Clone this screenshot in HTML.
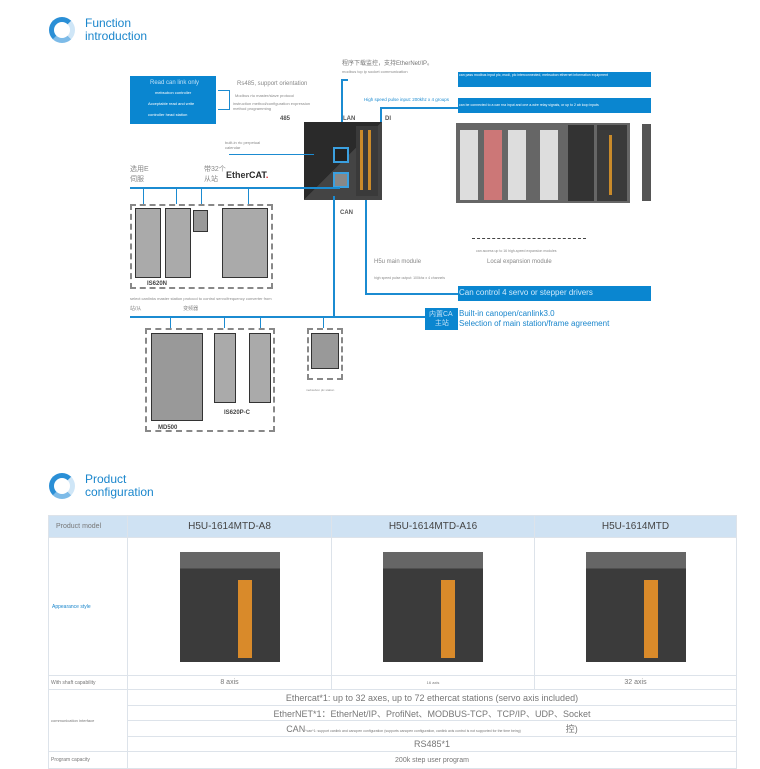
<!DOCTYPE html><html><head><meta charset="utf-8"><style>
*{margin:0;padding:0;box-sizing:border-box}
body{width:760px;height:768px;background:#fff;position:relative;overflow:hidden;font-family:"Liberation Sans","Noto Sans CJK SC",sans-serif}
.a{position:absolute}
.t{position:absolute;white-space:nowrap}
.ring{position:absolute;width:26px;height:26px;border-radius:50%;border:5px solid #2a8fd6;border-right-color:#cfe6f7;border-bottom-color:#7dbbe8}
.h{color:#1a86cc;font-size:12px;line-height:13px}
.bl{position:absolute;background:#1b8bd1}
.dash{position:absolute;border:2px dashed #888}
.dev{position:absolute;background:#555;border:1px solid #333}
.bar{position:absolute;background:#0a86d0;color:#fff;font-size:4px}
td{border:1px solid #dde3ea;text-align:center;color:#777;font-size:9px}
</style></head><body>
<div class="ring" style="left:49px;top:17px"></div>
<div class="t h" style="left:85px;top:17px">Function<br>introduction</div>

<div class="a" style="left:130px;top:76px;width:86px;height:48px;background:#0a86d0"></div>
<div class="t" style="left:150px;top:80px;font-size:6px;color:#bfe0f7">Read can link only</div>
<div class="t" style="left:155px;top:90px;font-size:4px;color:#fff">mebsubon controller</div>
<div class="t" style="left:148px;top:101px;font-size:4px;color:#fff">Acceptable read and write</div>
<div class="t" style="left:148px;top:112px;font-size:4px;color:#fff">controller head station</div>
<div class="a" style="left:218px;top:90px;width:12px;height:20px;border:1px solid #1b8bd1;border-left:none"></div>
<div class="t" style="left:237px;top:81px;font-size:6px;color:#888">Rs485, support orientation</div>
<div class="t" style="left:235px;top:93px;font-size:4px;color:#888">Modbus rtu master/slave protocol</div>
<div class="t" style="left:233px;top:101px;font-size:4px;color:#888">instruction method/configuration expression<br>method programming</div>
<div class="t" style="left:280px;top:116px;font-size:6px;font-weight:bold;color:#555">485</div>
<div class="t" style="left:343px;top:116px;font-size:6px;font-weight:bold;color:#555">LAN</div>
<div class="t" style="left:385px;top:116px;font-size:6px;font-weight:bold;color:#555">DI</div>
<div class="t" style="left:342px;top:58px;font-size:6px;color:#777">程序下载监控，支持EtherNet/IP。</div>
<div class="t" style="left:342px;top:69px;font-size:4px;color:#888">modbus tcp ip socket communication</div>
<div class="bl" style="left:341px;top:79px;width:2px;height:45px"></div>
<div class="bl" style="left:341px;top:79px;width:7px;height:2px"></div>
<div class="t" style="left:364px;top:97px;font-size:4.5px;color:#1b8bd1">High speed pulse input: 200khz x 4 groups</div>
<div class="bl" style="left:380px;top:107px;width:78px;height:2px"></div>
<div class="bl" style="left:380px;top:107px;width:2px;height:16px"></div>

<!-- main PLC -->
<div class="a" style="left:304px;top:122px;width:78px;height:78px;background:linear-gradient(135deg,#2a2a2a 50%,#444 50%)"></div>
<div class="a" style="left:356px;top:126px;width:22px;height:70px;background:#3a3a3a"></div>
<div class="a" style="left:360px;top:130px;width:3px;height:60px;background:#c98a2a"></div>
<div class="a" style="left:368px;top:130px;width:3px;height:60px;background:#c98a2a"></div>
<div class="a" style="left:333px;top:147px;width:16px;height:16px;background:#222;border:2px solid #3ba0e0"></div>
<div class="a" style="left:333px;top:172px;width:16px;height:16px;background:#888;border:2px solid #3ba0e0"></div>
<div class="t" style="left:340px;top:210px;font-size:6px;font-weight:bold;color:#555">CAN</div>

<div class="t" style="left:225px;top:140px;font-size:4px;color:#888">built-in rtc perpetual<br>calendar</div>
<div class="bl" style="left:229px;top:154px;width:85px;height:1px"></div>
<div class="t" style="left:130px;top:164px;font-size:7px;color:#888">选用E<br>伺服</div>
<div class="t" style="left:204px;top:164px;font-size:7px;color:#888">带32个<br>从站</div>
<div class="t" style="left:226px;top:170px;font-size:9px;font-weight:bold;color:#333">Ether<span style="color:#222">CAT</span><span style="color:#d22">.</span></div>
<div class="bl" style="left:130px;top:187px;width:210px;height:2px"></div>
<div class="bl" style="left:143px;top:189px;width:1px;height:15px"></div>
<div class="bl" style="left:176px;top:189px;width:1px;height:15px"></div>
<div class="bl" style="left:201px;top:189px;width:1px;height:15px"></div>
<div class="bl" style="left:248px;top:189px;width:1px;height:15px"></div>

<div class="dash" style="left:130px;top:204px;width:143px;height:85px"></div>
<div class="dev" style="left:135px;top:208px;width:26px;height:70px;background:#aaa"></div>
<div class="dev" style="left:165px;top:208px;width:26px;height:70px;background:#aaa"></div>
<div class="dev" style="left:193px;top:210px;width:15px;height:22px;background:#999"></div>
<div class="dev" style="left:222px;top:208px;width:46px;height:70px;background:#aaa"></div>
<div class="t" style="left:147px;top:281px;font-size:6px;font-weight:bold;color:#444">IS620N</div>
<div class="t" style="left:130px;top:296px;font-size:4px;color:#888">select canlinks master station protocol to control servo/frequency converter from</div>
<div class="t" style="left:130px;top:305px;font-size:5px;color:#888">站/从 &nbsp;&nbsp;&nbsp;&nbsp;&nbsp;&nbsp;&nbsp;&nbsp;&nbsp;&nbsp;&nbsp;&nbsp;&nbsp;&nbsp;&nbsp;&nbsp;&nbsp;&nbsp;&nbsp;&nbsp;&nbsp;&nbsp;&nbsp;&nbsp;&nbsp;&nbsp;&nbsp;&nbsp; 变频器</div>

<div class="bl" style="left:333px;top:196px;width:2px;height:122px"></div>
<div class="bl" style="left:130px;top:316px;width:300px;height:2px"></div>
<div class="bl" style="left:170px;top:318px;width:1px;height:10px"></div>
<div class="bl" style="left:224px;top:318px;width:1px;height:10px"></div>
<div class="bl" style="left:260px;top:318px;width:1px;height:10px"></div>
<div class="bl" style="left:323px;top:318px;width:1px;height:10px"></div>
<div class="dash" style="left:145px;top:328px;width:130px;height:104px"></div>
<div class="dev" style="left:151px;top:333px;width:52px;height:88px;background:#999"></div>
<div class="dev" style="left:214px;top:333px;width:22px;height:70px;background:#aaa"></div>
<div class="dev" style="left:249px;top:333px;width:22px;height:70px;background:#aaa"></div>
<div class="t" style="left:158px;top:425px;font-size:6px;font-weight:bold;color:#444">MD500</div>
<div class="t" style="left:224px;top:410px;font-size:6px;font-weight:bold;color:#444">IS620P-C</div>
<div class="dash" style="left:307px;top:328px;width:36px;height:52px"></div>
<div class="dev" style="left:311px;top:333px;width:28px;height:36px;background:#999"></div>
<div class="t" style="left:306px;top:388px;font-size:3px;color:#888">mebsubon plc station</div>

<div class="a" style="left:425px;top:308px;width:33px;height:22px;background:#0a86d0"></div>
<div class="t" style="left:429px;top:310px;font-size:7px;color:#bfe0f7;line-height:9px">内置CA<br>&nbsp;&nbsp;&nbsp;主站</div>
<div class="t" style="left:459px;top:309px;font-size:8px;color:#1a86cc;line-height:10px">Built-in canopen/canlink3.0<br>Selection of main station/frame agreement</div>
<div class="bl" style="left:365px;top:200px;width:2px;height:95px"></div>
<div class="bl" style="left:365px;top:293px;width:93px;height:2px"></div>
<div class="a" style="left:458px;top:286px;width:193px;height:15px;background:#0a86d0"></div>
<div class="t" style="left:459px;top:288px;font-size:8px;color:#cfe9fb">Can control 4 servo or stepper drivers</div>
<div class="t" style="left:374px;top:259px;font-size:6px;color:#888">H5u main module</div>
<div class="t" style="left:487px;top:259px;font-size:6px;color:#888">Local expansion module</div>
<div class="t" style="left:374px;top:276px;font-size:3.5px;color:#888">high speed pulse output: 100khz x 4 channels</div>
<div class="t" style="left:476px;top:249px;font-size:3.5px;color:#888">can access up to 16 high-speed expansion modules</div>
<div class="a" style="left:472px;top:238px;width:114px;height:0;border-top:1px dashed #444"></div>

<div class="a" style="left:458px;top:72px;width:193px;height:15px;background:#0a86d0"></div>
<div class="t" style="left:459px;top:73px;font-size:3.5px;color:#fff">can pass modbus input plc, modi, plc interconnected, mebsubon ethernet information equipment</div>
<div class="a" style="left:458px;top:98px;width:193px;height:15px;background:#0a86d0"></div>
<div class="t" style="left:459px;top:103px;font-size:3.5px;color:#fff">can be connected to a can rna input and one a-wire relay signals, or up to 2 ab loop inputs</div>
<div class="a" style="left:456px;top:123px;width:174px;height:80px;background:#666"></div>
<div class="a" style="left:460px;top:130px;width:18px;height:70px;background:#ddd"></div>
<div class="a" style="left:484px;top:130px;width:18px;height:70px;background:#c77"></div>
<div class="a" style="left:508px;top:130px;width:18px;height:70px;background:#ddd"></div>
<div class="a" style="left:540px;top:130px;width:18px;height:70px;background:#ddd"></div>
<div class="a" style="left:568px;top:125px;width:26px;height:76px;background:#333"></div>
<div class="a" style="left:597px;top:125px;width:30px;height:76px;background:#3a3a3a"></div>
<div class="a" style="left:609px;top:135px;width:3px;height:60px;background:#c98a2a"></div>
<div class="a" style="left:642px;top:124px;width:9px;height:77px;background:#555"></div>

<div class="ring" style="left:49px;top:473px"></div>
<div class="t h" style="left:85px;top:473px">Product<br>configuration</div>

<table class="a" style="left:48px;top:515px;width:689px;height:253px;border-collapse:collapse">
<tr style="height:22px;background:#cfe2f3"><td style="width:79px;text-align:left;padding-left:7px;font-size:7px">Product model</td><td style="width:204px;font-size:10px;color:#444">H5U-1614MTD-A8</td><td style="width:203px;font-size:10px;color:#444">H5U-1614MTD-A16</td><td style="font-size:10px;color:#444">H5U-1614MTD</td></tr>
<tr style="height:138px"><td style="text-align:left;padding-left:3px;font-size:5px;color:#1a86cc">Appearance style</td>
<td><div style="margin:auto;width:100px;height:110px;background:linear-gradient(#666 15%,#3b3b3b 15%);position:relative"><div style="position:absolute;left:58px;top:28px;width:14px;height:78px;background:#d98a2a"></div></div></td>
<td><div style="margin:auto;width:100px;height:110px;background:linear-gradient(#666 15%,#3b3b3b 15%);position:relative"><div style="position:absolute;left:58px;top:28px;width:14px;height:78px;background:#d98a2a"></div></div></td>
<td><div style="margin:auto;width:100px;height:110px;background:linear-gradient(#666 15%,#3b3b3b 15%);position:relative"><div style="position:absolute;left:58px;top:28px;width:14px;height:78px;background:#d98a2a"></div></div></td></tr>
<tr style="height:14px"><td style="text-align:left;padding-left:2px;font-size:5px">With shaft capability</td><td style="font-size:7px">8 axis</td><td style="font-size:4px">16 axis</td><td style="font-size:7px">32 axis</td></tr>
<tr style="height:16px"><td rowspan="4" style="text-align:left;padding-left:2px;font-size:4px">communication interface</td><td colspan="3">Ethercat*1: up to 32 axes, up to 72 ethercat stations (servo axis included)</td></tr>
<tr style="height:15px"><td colspan="3">EtherNET*1：EtherNet/IP、ProfiNet、MODBUS-TCP、TCP/IP、UDP、Socket</td></tr>
<tr style="height:16px"><td colspan="3">CAN<span style="font-size:3.5px">*can*1: support canlink and canopen configuration (supports canopen configuration, canlink axis control is not supported for the time being)</span> &nbsp;&nbsp;&nbsp;&nbsp;&nbsp;&nbsp;&nbsp;&nbsp;&nbsp;&nbsp;&nbsp;&nbsp;&nbsp;&nbsp;&nbsp;&nbsp; 控)</td></tr>
<tr style="height:15px"><td colspan="3">RS485*1</td></tr>
<tr style="height:17px"><td style="text-align:left;padding-left:2px;font-size:5px">Program capacity</td><td colspan="3" style="font-size:7px">200k step user program</td></tr>
</table>
</body></html>
